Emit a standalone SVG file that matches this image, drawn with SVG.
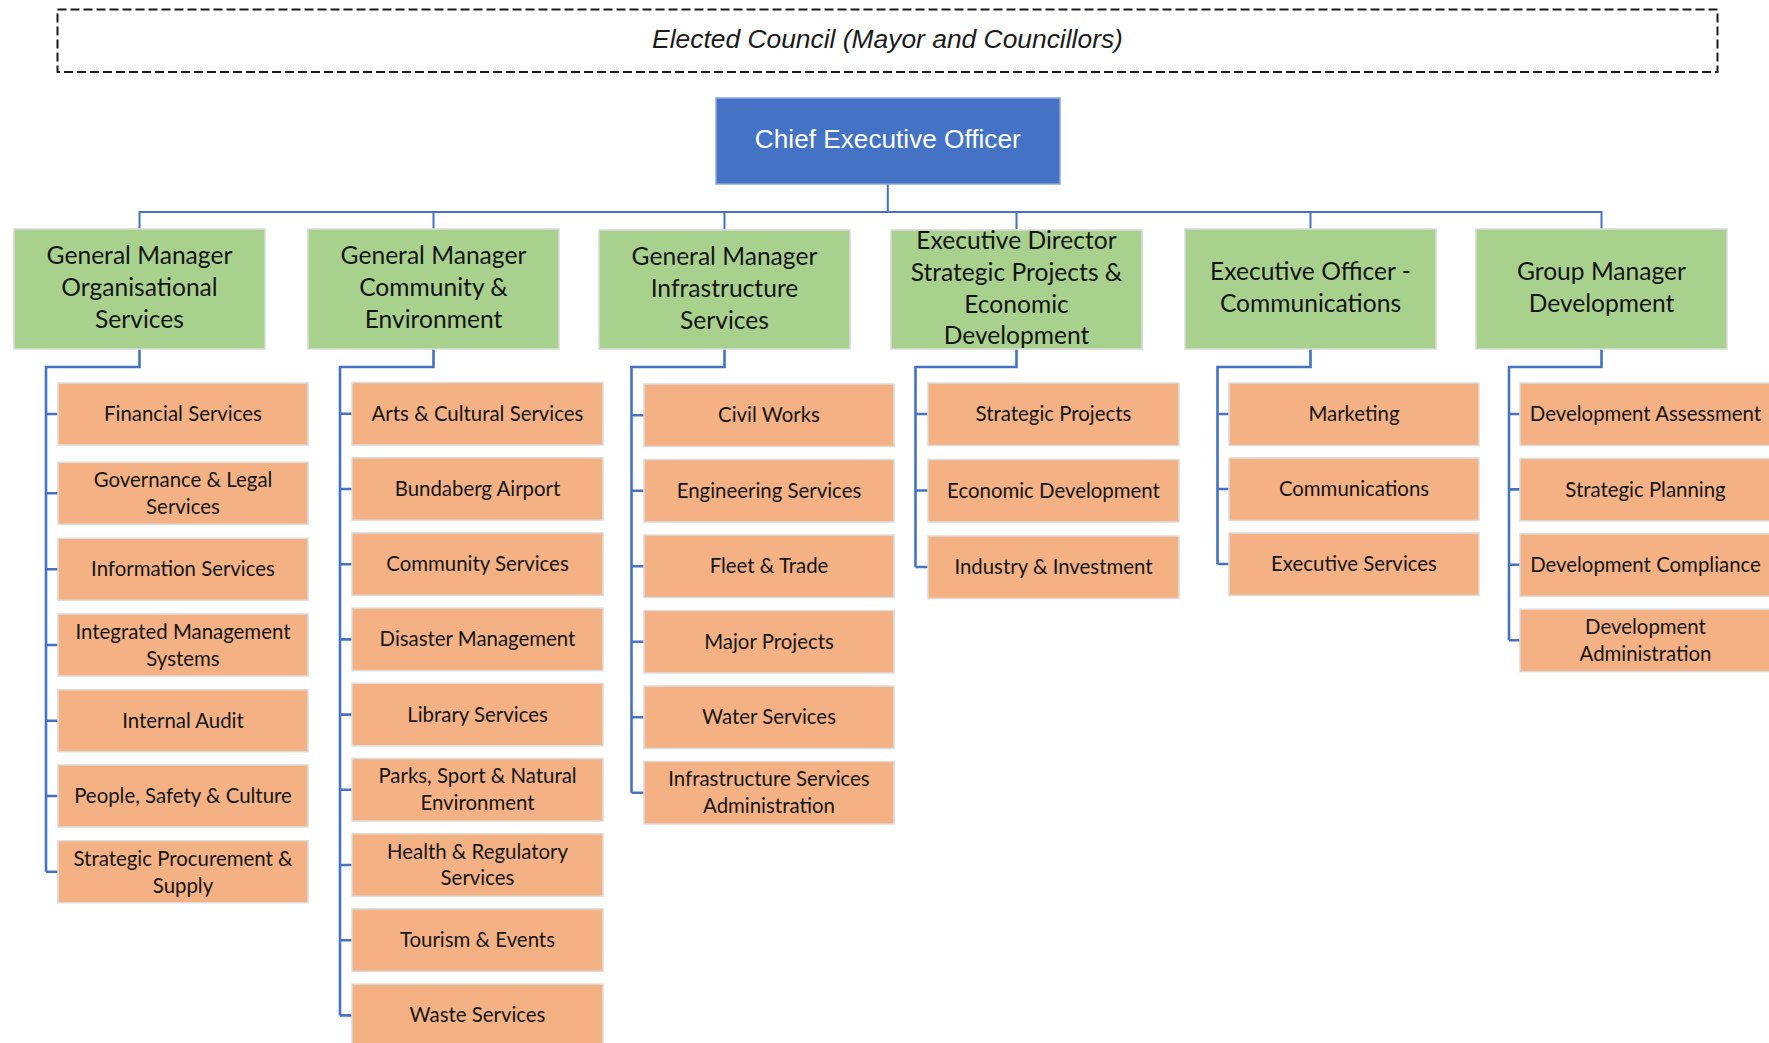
<svg xmlns="http://www.w3.org/2000/svg" width="1769" height="1043" viewBox="0 0 1769 1043">
  <style>
    .bg { fill: #ffffff; }
    .council { fill: none; stroke: #1a1a1a; stroke-width: 2; stroke-dasharray: 9 4; }
    .council-label { font-family: "Liberation Sans", Arial, sans-serif; font-style: italic; font-size: 26.4px; fill: #1a1a1a; text-anchor: middle; }
    .ceo rect { fill: #4472C4; stroke: #8fa9dc; stroke-width: 1.5; }
    .ceo text { font-family: "Liberation Sans", Arial, sans-serif; font-size: 26.2px; fill: #ffffff; text-anchor: middle; }
    .gm rect { fill: #A9D18E; stroke: #d9d9d9; stroke-width: 1.5; }
    .gm text { font-family: Lato, "Open Sans", sans-serif; font-size: 24.6px; fill: #141414; text-anchor: middle; }
    .unit rect { fill: #F4B183; stroke: #dcdcdc; stroke-width: 1.5; }
    .unit text { font-family: Lato, "Open Sans", sans-serif; font-size: 20.4px; fill: #141414; text-anchor: middle; }
    .bus { fill: none; stroke: #4472C4; stroke-width: 2; }
    .branch { fill: none; stroke: #4472C4; stroke-width: 2.6; }
  </style>

  <rect class="bg" x="0" y="0" width="1769" height="1043"/>

  <!-- Connectors -->
  <g id="connectors">
    <path class="bus" d="M887.8 184V212 M139.5 229V212H1601.5V229 M433.5 212V229 M724.5 212V229 M1016.5 212V229 M1310.5 212V229"/>
    <!-- Organisational Services -->
    <path class="branch" d="M139.5 349V367H46V871.7 M46 414H58 M46 493.3H58 M46 569.3H58 M46 645H58 M46 720.7H58 M46 796H58 M46 871.7H58"/>
    <!-- Community & Environment -->
    <path class="branch" d="M433.5 349V367H340V1015.4 M340 413.8H352 M340 489H352 M340 564.2H352 M340 639.4H352 M340 714.6H352 M340 789.8H352 M340 865H352 M340 940.2H352 M340 1015.4H352"/>
    <!-- Infrastructure Services -->
    <path class="branch" d="M724.5 349V367H631.5V792.8 M631.5 415.3H644 M631.5 490.8H644 M631.5 566.3H644 M631.5 641.8H644 M631.5 717.3H644 M631.5 792.8H644"/>
    <!-- Strategic Projects & Economic Development -->
    <path class="branch" d="M1016.5 349V367H915.5V567 M915.5 414H928 M915.5 490.5H928 M915.5 567H928"/>
    <!-- Communications -->
    <path class="branch" d="M1310.5 349V367H1217.5V564 M1217.5 414H1229 M1217.5 489H1229 M1217.5 564H1229"/>
    <!-- Development -->
    <path class="branch" d="M1601.5 349V367H1509V640.2 M1509 414H1520 M1509 489.4H1520 M1509 564.8H1520 M1509 640.2H1520"/>
  </g>

  <!-- Elected council -->
  <g id="council">
    <rect class="council" x="57.5" y="9.5" width="1660" height="62.5"/>
    <text class="council-label" x="887.5" y="48">Elected Council (Mayor and Councillors)</text>
  </g>

  <!-- Chief Executive Officer -->
  <g id="ceo" class="ceo">
    <rect x="716" y="98" width="344" height="86"/>
    <text x="887.8" y="148">Chief Executive Officer</text>
  </g>

  <!-- Directorates -->
  <g id="gm-organisational" class="gm">
    <rect x="14" y="229" width="251" height="120"/>
    <text x="139.5" y="264">General Manager</text>
    <text x="139.5" y="296">Organisational</text>
    <text x="139.5" y="328">Services</text>
  </g>
  <g id="gm-community" class="gm">
    <rect x="308" y="229" width="251" height="120"/>
    <text x="433.5" y="264">General Manager</text>
    <text x="433.5" y="296">Community &amp;</text>
    <text x="433.5" y="328">Environment</text>
  </g>
  <g id="gm-infrastructure" class="gm">
    <rect x="599" y="230" width="251" height="119"/>
    <text x="724.5" y="265">General Manager</text>
    <text x="724.5" y="297">Infrastructure</text>
    <text x="724.5" y="329">Services</text>
  </g>
  <g id="ed-strategic" class="gm">
    <rect x="891" y="230" width="251" height="119"/>
    <text x="1016.5" y="249">Executive Director</text>
    <text x="1016.5" y="281">Strategic Projects &amp;</text>
    <text x="1016.5" y="313">Economic</text>
    <text x="1016.5" y="344">Development</text>
  </g>
  <g id="eo-communications" class="gm">
    <rect x="1185" y="229" width="251" height="120"/>
    <text x="1310.5" y="280">Executive Officer -</text>
    <text x="1310.5" y="312">Communications</text>
  </g>
  <g id="gm-development" class="gm">
    <rect x="1476" y="229" width="251" height="120"/>
    <text x="1601.5" y="280">Group Manager</text>
    <text x="1601.5" y="312">Development</text>
  </g>

  <!-- Organisational Services units -->
  <g id="financial-services" class="unit">
    <rect x="58" y="383" width="250" height="62"/>
    <text x="183" y="421">Financial Services</text>
  </g>
  <g id="governance-legal" class="unit">
    <rect x="58" y="462.3" width="250" height="62"/>
    <text x="183" y="487.3">Governance &amp; Legal</text>
    <text x="183" y="514.1">Services</text>
  </g>
  <g id="information-services" class="unit">
    <rect x="58" y="538.3" width="250" height="62"/>
    <text x="183" y="576.3">Information Services</text>
  </g>
  <g id="integrated-management" class="unit">
    <rect x="58" y="614" width="250" height="62"/>
    <text x="183" y="639">Integrated Management</text>
    <text x="183" y="665.8">Systems</text>
  </g>
  <g id="internal-audit" class="unit">
    <rect x="58" y="689.7" width="250" height="62"/>
    <text x="183" y="727.7">Internal Audit</text>
  </g>
  <g id="people-safety-culture" class="unit">
    <rect x="58" y="765" width="250" height="62"/>
    <text x="183" y="803">People, Safety &amp; Culture</text>
  </g>
  <g id="strategic-procurement" class="unit">
    <rect x="58" y="840.7" width="250" height="62"/>
    <text x="183" y="865.7">Strategic Procurement &amp;</text>
    <text x="183" y="892.5">Supply</text>
  </g>

  <!-- Community & Environment units -->
  <g id="arts-cultural" class="unit">
    <rect x="352" y="382.5" width="251" height="62.5"/>
    <text x="477.5" y="420.8">Arts &amp; Cultural Services</text>
  </g>
  <g id="bundaberg-airport" class="unit">
    <rect x="352" y="457.7" width="251" height="62.5"/>
    <text x="477.5" y="496">Bundaberg Airport</text>
  </g>
  <g id="community-services" class="unit">
    <rect x="352" y="532.9" width="251" height="62.5"/>
    <text x="477.5" y="571.2">Community Services</text>
  </g>
  <g id="disaster-management" class="unit">
    <rect x="352" y="608.1" width="251" height="62.5"/>
    <text x="477.5" y="646.4">Disaster Management</text>
  </g>
  <g id="library-services" class="unit">
    <rect x="352" y="683.3" width="251" height="62.5"/>
    <text x="477.5" y="721.6">Library Services</text>
  </g>
  <g id="parks-sport-natural" class="unit">
    <rect x="352" y="758.5" width="251" height="62.5"/>
    <text x="477.5" y="783.4">Parks, Sport &amp; Natural</text>
    <text x="477.5" y="810.2">Environment</text>
  </g>
  <g id="health-regulatory" class="unit">
    <rect x="352" y="833.7" width="251" height="62.5"/>
    <text x="477.5" y="858.6">Health &amp; Regulatory</text>
    <text x="477.5" y="885.4">Services</text>
  </g>
  <g id="tourism-events" class="unit">
    <rect x="352" y="908.9" width="251" height="62.5"/>
    <text x="477.5" y="947.2">Tourism &amp; Events</text>
  </g>
  <g id="waste-services" class="unit">
    <rect x="352" y="984.1" width="251" height="62.5"/>
    <text x="477.5" y="1022.4">Waste Services</text>
  </g>

  <!-- Infrastructure Services units -->
  <g id="civil-works" class="unit">
    <rect x="644" y="384" width="250" height="62.5"/>
    <text x="769" y="422.3">Civil Works</text>
  </g>
  <g id="engineering-services" class="unit">
    <rect x="644" y="459.5" width="250" height="62.5"/>
    <text x="769" y="497.8">Engineering Services</text>
  </g>
  <g id="fleet-trade" class="unit">
    <rect x="644" y="535" width="250" height="62.5"/>
    <text x="769" y="573.3">Fleet &amp; Trade</text>
  </g>
  <g id="major-projects" class="unit">
    <rect x="644" y="610.5" width="250" height="62.5"/>
    <text x="769" y="648.8">Major Projects</text>
  </g>
  <g id="water-services" class="unit">
    <rect x="644" y="686" width="250" height="62.5"/>
    <text x="769" y="724.3">Water Services</text>
  </g>
  <g id="infrastructure-admin" class="unit">
    <rect x="644" y="761.5" width="250" height="62.5"/>
    <text x="769" y="786.4">Infrastructure Services</text>
    <text x="769" y="813.2">Administration</text>
  </g>

  <!-- Strategic Projects & Economic Development units -->
  <g id="strategic-projects" class="unit">
    <rect x="928" y="383" width="251" height="62.5"/>
    <text x="1053.5" y="421.3">Strategic Projects</text>
  </g>
  <g id="economic-development" class="unit">
    <rect x="928" y="459.5" width="251" height="62.5"/>
    <text x="1053.5" y="497.8">Economic Development</text>
  </g>
  <g id="industry-investment" class="unit">
    <rect x="928" y="536" width="251" height="62.5"/>
    <text x="1053.5" y="574.3">Industry &amp; Investment</text>
  </g>

  <!-- Communications units -->
  <g id="marketing" class="unit">
    <rect x="1229" y="383" width="250" height="62.5"/>
    <text x="1354" y="421.3">Marketing</text>
  </g>
  <g id="communications" class="unit">
    <rect x="1229" y="458" width="250" height="62.5"/>
    <text x="1354" y="496.3">Communications</text>
  </g>
  <g id="executive-services" class="unit">
    <rect x="1229" y="533" width="250" height="62.5"/>
    <text x="1354" y="571.3">Executive Services</text>
  </g>

  <!-- Development units -->
  <g id="development-assessment" class="unit">
    <rect x="1520" y="383" width="251" height="62.5"/>
    <text x="1645.5" y="421.3">Development Assessment</text>
  </g>
  <g id="strategic-planning" class="unit">
    <rect x="1520" y="458.4" width="251" height="62.5"/>
    <text x="1645.5" y="496.7">Strategic Planning</text>
  </g>
  <g id="development-compliance" class="unit">
    <rect x="1520" y="533.8" width="251" height="62.5"/>
    <text x="1645.5" y="572.1">Development Compliance</text>
  </g>
  <g id="development-administration" class="unit">
    <rect x="1520" y="609.2" width="251" height="62.5"/>
    <text x="1645.5" y="634.1">Development</text>
    <text x="1645.5" y="660.9">Administration</text>
  </g>
</svg>
